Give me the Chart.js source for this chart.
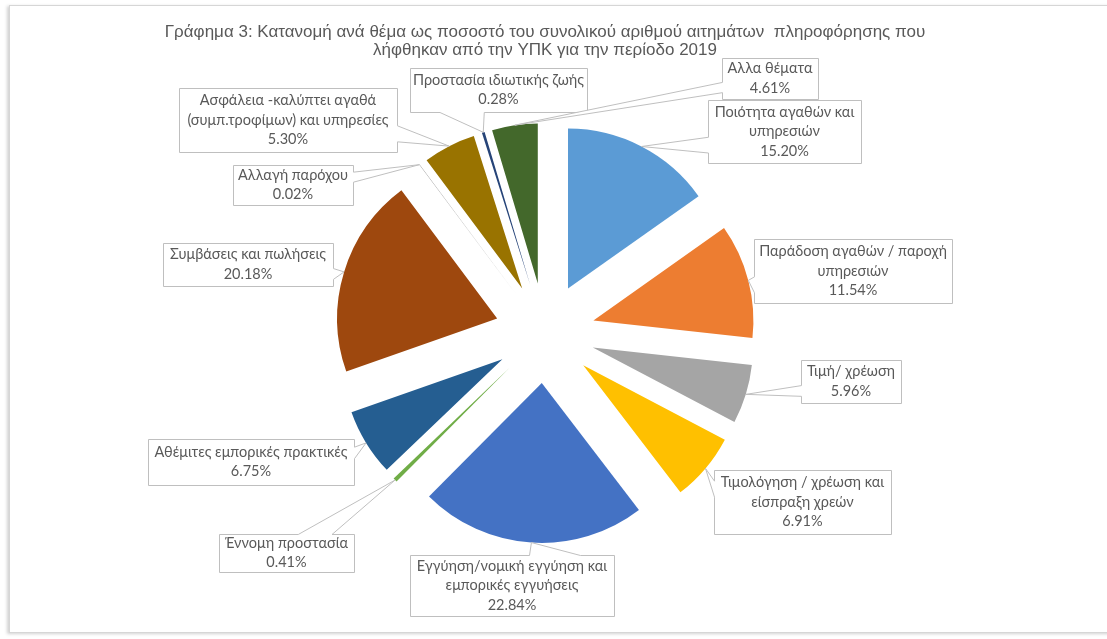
<!DOCTYPE html>
<html>
<head>
<meta charset="utf-8">
<script src="https://cdn.jsdelivr.net/npm/chart.js@4"></script>
<style>
  html, body { margin: 0; padding: 0; background: #fff; }
  #frame { position: absolute; left: 9px; top: 5px; width: 1200px; height: 626px; border: 1px solid #d6d6d6; box-shadow: -2px 1px 3px rgba(0,0,0,0.18); }
  #wrap { position: absolute; left: 0; top: 0; width: 1107px; height: 639px; }
</style>
</head>
<body>
<div id="frame"></div>
<div id="wrap"><canvas id="pieChart"></canvas></div>
<script>
// Topic of each request (label lines) and its share of all requests, 2019
const topics = [
  ["Ποιότητα αγαθών και", "υπηρεσιών"],
  ["Παράδοση αγαθών / παροχή", "υπηρεσιών"],
  ["Τιμή/ χρέωση"],
  ["Τιμολόγηση / χρέωση και", "είσπραξη χρεών"],
  ["Εγγύηση/νομική εγγύηση και", "εμπορικές εγγυήσεις"],
  ["Έννομη προστασία"],
  ["Αθέμιτες εμπορικές πρακτικές"],
  ["Συμβάσεις και πωλήσεις"],
  ["Αλλαγή παρόχου"],
  ["Ασφάλεια -καλύπτει αγαθά", "(συμπ.τροφίμων) και υπηρεσίες"],
  ["Προστασία ιδιωτικής ζωής"],
  ["Αλλα θέματα"]
];
const shares = [15.20, 11.54, 5.96, 6.91, 22.84, 0.41, 6.75, 20.18, 0.02, 5.30, 0.28, 4.61];

const titleLines = [
  "Γράφημα 3: Κατανομή ανά θέμα ως ποσοστό του συνολικού αριθμού αιτημάτων  πληροφόρησης που",
  "λήφθηκαν από την ΥΠΚ για την περίοδο 2019"
];

const sliceColors = ["#5B9BD5", "#ED7D31", "#A5A5A5", "#FFC000", "#4472C4", "#70AD47",
                     "#255E91", "#9E480E", "#636363", "#997300", "#264478", "#43682B"];

// callout boxes, same order as topics: [left, top, right, bottom]
const boxes = [
  [708, 100, 861, 163],
  [754, 239, 952, 303],
  [801, 360, 901, 403],
  [714, 470, 891, 534],
  [410, 555, 614, 616],
  [219, 534, 354, 572],
  [148, 439, 354, 485],
  [163, 243, 333, 286],
  [233, 165, 353, 205],
  [179, 88, 397, 152],
  [410, 68, 587, 112],
  [722, 58, 818, 99]
];

const explodeBy = 50;
const labelFont = "14.5px Lato, 'Noto Sans', sans-serif";

// pull every slice out from the centre, like Excel's "point explosion"
const explode = {
  id: 'explode',
  afterDatasetsUpdate(chart) {
    chart.getDatasetMeta(0).data.forEach(arc => {
      const mid = (arc.startAngle + arc.endAngle) / 2;
      arc.x += Math.cos(mid) * explodeBy;
      arc.y += Math.sin(mid) * explodeBy;
    });
  }
};

// rectangle callout with a wedge pointing at (tx, ty), same rule as Office's wedgeRectCallout
function calloutPath(ctx, l, t, r, b, tx, ty) {
  const w = r - l, h = b - t;
  const dxPos = tx - (l + r) / 2, dyPos = ty - (t + b) / 2;
  const inside = tx >= l && tx <= r && ty >= t && ty <= b;
  let side = null;
  if (!inside) {
    if (Math.abs(dxPos * h) > Math.abs(dyPos * w)) side = dxPos < 0 ? 'left' : 'right';
    else side = dyPos < 0 ? 'top' : 'bottom';
  }
  const x1 = l + w * (dxPos > 0 ? 7 : 2) / 12, x2 = l + w * (dxPos > 0 ? 10 : 5) / 12;
  const y1 = t + h * (dyPos > 0 ? 7 : 2) / 12, y2 = t + h * (dyPos > 0 ? 10 : 5) / 12;
  ctx.beginPath();
  ctx.moveTo(l, t);
  if (side === 'top') { ctx.lineTo(x1, t); ctx.lineTo(tx, ty); ctx.lineTo(x2, t); }
  ctx.lineTo(r, t);
  if (side === 'right') { ctx.lineTo(r, y1); ctx.lineTo(tx, ty); ctx.lineTo(r, y2); }
  ctx.lineTo(r, b);
  if (side === 'bottom') { ctx.lineTo(x2, b); ctx.lineTo(tx, ty); ctx.lineTo(x1, b); }
  ctx.lineTo(l, b);
  if (side === 'left') { ctx.lineTo(l, y2); ctx.lineTo(tx, ty); ctx.lineTo(l, y1); }
  ctx.closePath();
}

const callouts = {
  id: 'callouts',
  afterDatasetsDraw(chart) {
    const ctx = chart.ctx;
    const arcs = chart.getDatasetMeta(0).data;
    ctx.save();
    ctx.font = labelFont;
    ctx.textAlign = 'center';
    ctx.textBaseline = 'middle';
    arcs.forEach((arc, i) => {
      const mid = (arc.startAngle + arc.endAngle) / 2;
      const tx = arc.x + Math.cos(mid) * arc.outerRadius;
      const ty = arc.y + Math.sin(mid) * arc.outerRadius;
      const [l, t, r, b] = boxes[i];
      calloutPath(ctx, l + 0.5, t + 0.5, r + 0.5, b + 0.5, tx, ty);
      ctx.fillStyle = '#ffffff';
      ctx.fill();
      ctx.strokeStyle = '#bfbfbf';
      ctx.lineWidth = 1;
      ctx.stroke();

      const lines = topics[i].concat([shares[i].toFixed(2) + '%']);
      const lh = 19.5;
      const cx = (l + r) / 2;
      const top = (t + b) / 2 - (lines.length - 1) * lh / 2;
      ctx.fillStyle = '#595959';
      lines.forEach((s, k) => ctx.fillText(s, cx, top + k * lh));
    });
    ctx.restore();
  }
};

new Chart("pieChart", {
  type: "pie",
  data: {
    labels: topics,
    datasets: [{
      data: shares,
      backgroundColor: sliceColors,
      borderWidth: 0,
      radius: 160
    }]
  },
  options: {
    responsive: true,
    maintainAspectRatio: false,
    animation: false,
    events: [],
    layout: { padding: { left: 0, right: 17, top: 0, bottom: 42 } },
    plugins: {
      legend: { display: false },
      tooltip: { enabled: false },
      title: {
        display: true,
        text: titleLines,
        color: '#595959',
        font: { family: "'Liberation Sans', Arial, sans-serif", size: 17, weight: 'normal', lineHeight: 18 / 17 },
        padding: { top: 23, bottom: 10 }
      }
    }
  },
  plugins: [explode, callouts]
});
</script>
</body>
</html>
